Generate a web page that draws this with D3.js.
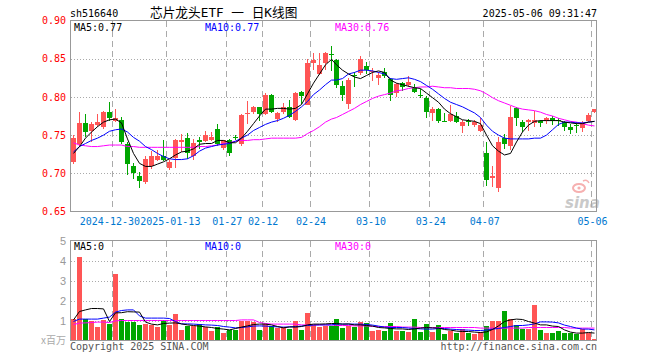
<!DOCTYPE html>
<html>
<head>
<meta charset="utf-8">
<script src="https://cdn.jsdelivr.net/npm/d3@7"></script>
<style>
body { margin: 0; background: #fff; }
svg { display: block; }
</style>
</head>
<body>
<div id="chart"></div>
<script>
// daily k-line data
var dates = [
    "2024-12-19","2024-12-20","2024-12-23","2024-12-24","2024-12-25","2024-12-26","2024-12-27","2024-12-30","2024-12-31","2025-01-02",
    "2025-01-03","2025-01-06","2025-01-07","2025-01-08","2025-01-09","2025-01-10","2025-01-13","2025-01-14","2025-01-15","2025-01-16",
    "2025-01-17","2025-01-20","2025-01-21","2025-01-22","2025-01-23","2025-01-24","2025-01-27","2025-02-05","2025-02-06","2025-02-07",
    "2025-02-10","2025-02-11","2025-02-12","2025-02-13","2025-02-14","2025-02-17","2025-02-18","2025-02-19","2025-02-20","2025-02-21",
    "2025-02-24","2025-02-25","2025-02-26","2025-02-27","2025-02-28","2025-03-03","2025-03-04","2025-03-05","2025-03-06","2025-03-07",
    "2025-03-10","2025-03-11","2025-03-12","2025-03-13","2025-03-14","2025-03-17","2025-03-18","2025-03-19","2025-03-20","2025-03-21",
    "2025-03-24","2025-03-25","2025-03-26","2025-03-27","2025-03-28","2025-03-31","2025-04-01","2025-04-02","2025-04-03","2025-04-07",
    "2025-04-08","2025-04-09","2025-04-10","2025-04-11","2025-04-14","2025-04-15","2025-04-16","2025-04-17","2025-04-18","2025-04-21",
    "2025-04-22","2025-04-23","2025-04-24","2025-04-25","2025-04-28","2025-04-29","2025-04-30","2025-05-06"
];

var openP = [
    0.715,0.738,0.766,0.755,0.763,0.760,0.780,0.768,0.770,0.739,
    0.710,0.696,0.688,0.709,0.718,0.722,0.707,0.720,0.741,0.746,
    0.723,0.744,0.742,0.744,0.758,0.733,0.744,0.748,0.738,0.778,
    0.780,0.787,0.777,0.803,0.771,0.780,0.787,0.770,0.806,0.790,
    0.844,0.830,0.845,0.856,0.848,0.814,0.791,0.829,0.831,0.840,
    0.832,0.825,0.832,0.824,0.805,0.818,0.816,0.811,0.803,0.798,
    0.779,0.784,0.769,0.768,0.775,0.762,0.768,0.763,0.755,0.727,
    0.694,0.681,0.746,0.736,0.785,0.767,0.767,0.766,0.769,0.768,
    0.772,0.770,0.767,0.761,0.763,0.759,0.768,0.780
];
var highP = [
    0.750,0.780,0.778,0.767,0.778,0.781,0.793,0.784,0.774,0.741,
    0.713,0.702,0.723,0.729,0.731,0.744,0.717,0.745,0.752,0.753,
    0.745,0.747,0.755,0.754,0.765,0.744,0.745,0.750,0.777,0.794,
    0.788,0.787,0.805,0.804,0.780,0.792,0.796,0.806,0.808,0.849,
    0.858,0.858,0.859,0.866,0.850,0.821,0.825,0.832,0.854,0.846,
    0.838,0.832,0.838,0.825,0.818,0.819,0.827,0.817,0.810,0.801,
    0.787,0.785,0.779,0.789,0.780,0.770,0.771,0.770,0.773,0.741,
    0.710,0.748,0.752,0.788,0.787,0.770,0.771,0.782,0.770,0.774,
    0.775,0.773,0.769,0.764,0.767,0.768,0.779,0.784
];
var lowP = [
    0.712,0.735,0.747,0.741,0.761,0.758,0.769,0.767,0.739,0.698,
    0.693,0.681,0.686,0.706,0.716,0.716,0.704,0.707,0.728,0.719,
    0.717,0.732,0.741,0.742,0.736,0.731,0.722,0.743,0.736,0.765,
    0.777,0.769,0.776,0.779,0.767,0.778,0.772,0.769,0.791,0.789,
    0.835,0.829,0.835,0.834,0.811,0.794,0.784,0.813,0.829,0.830,
    0.821,0.816,0.825,0.795,0.800,0.808,0.813,0.805,0.799,0.773,
    0.769,0.766,0.767,0.767,0.766,0.753,0.762,0.760,0.754,0.684,
    0.682,0.675,0.732,0.731,0.762,0.754,0.755,0.761,0.760,0.765,
    0.763,0.762,0.756,0.751,0.753,0.754,0.767,0.779
];
var closeP = [
    0.746,0.766,0.754,0.765,0.767,0.780,0.773,0.773,0.741,0.712,
    0.700,0.690,0.719,0.723,0.723,0.718,0.715,0.744,0.743,0.726,
    0.740,0.741,0.750,0.748,0.739,0.743,0.726,0.746,0.776,0.779,
    0.787,0.777,0.803,0.780,0.779,0.787,0.774,0.805,0.801,0.845,
    0.848,0.842,0.858,0.855,0.815,0.802,0.822,0.827,0.849,0.835,
    0.834,0.829,0.828,0.802,0.817,0.813,0.819,0.807,0.802,0.780,
    0.784,0.769,0.768,0.777,0.767,0.767,0.767,0.767,0.763,0.691,
    0.696,0.741,0.739,0.774,0.772,0.761,0.770,0.770,0.766,0.773,
    0.769,0.768,0.761,0.757,0.762,0.766,0.776,0.784
];

var ma5 = [
    0.726,0.735,0.746,0.754,0.761,0.767,0.770,0.771,0.766,0.745,
    0.726,0.713,0.709,0.709,0.712,0.715,0.719,0.724,0.728,0.729,
    0.732,0.738,0.739,0.739,0.743,0.743,0.740,0.740,0.746,0.755,
    0.765,0.775,0.784,0.784,0.785,0.785,0.784,0.785,0.790,0.804,
    0.818,0.830,0.842,0.849,0.842,0.835,0.830,0.826,0.824,0.828,
    0.832,0.834,0.832,0.822,0.818,0.816,0.814,0.812,0.811,0.805,
    0.799,0.793,0.784,0.778,0.774,0.770,0.769,0.768,0.765,0.750,
    0.736,0.729,0.724,0.726,0.741,0.754,0.763,0.768,0.769,0.769,
    0.769,0.769,0.767,0.766,0.765,0.765,0.767,0.768
];
var ma10 = [
    0.728,0.735,0.739,0.743,0.746,0.750,0.755,0.757,0.758,0.754,
    0.747,0.742,0.735,0.731,0.726,0.722,0.719,0.718,0.718,0.719,
    0.723,0.729,0.733,0.735,0.737,0.738,0.739,0.742,0.746,0.750,
    0.756,0.760,0.764,0.767,0.769,0.772,0.776,0.781,0.787,0.794,
    0.803,0.809,0.816,0.822,0.822,0.824,0.830,0.832,0.835,0.835,
    0.834,0.832,0.830,0.824,0.823,0.824,0.825,0.823,0.820,0.815,
    0.810,0.804,0.798,0.793,0.790,0.787,0.783,0.779,0.773,0.763,
    0.755,0.750,0.746,0.745,0.745,0.745,0.745,0.746,0.746,0.750,
    0.757,0.764,0.767,0.767,0.766,0.766,0.767,0.768
];
var ma30 = [
    0.740,0.737,0.736,0.735,0.735,0.736,0.737,0.737,0.737,0.735,
    0.735,0.734,0.734,0.734,0.734,0.734,0.734,0.734,0.734,0.734,
    0.734,0.735,0.735,0.736,0.737,0.739,0.740,0.742,0.743,0.743,
    0.744,0.744,0.745,0.746,0.746,0.746,0.746,0.746,0.747,0.752,
    0.756,0.761,0.767,0.771,0.773,0.777,0.781,0.785,0.790,0.794,
    0.798,0.801,0.803,0.805,0.808,0.809,0.811,0.812,0.813,0.813,
    0.814,0.813,0.812,0.812,0.811,0.811,0.811,0.810,0.808,0.804,
    0.799,0.795,0.792,0.789,0.786,0.784,0.783,0.782,0.780,0.777,
    0.775,0.772,0.770,0.768,0.767,0.765,0.763,0.762
];

// volume in millions
var volume = [
    1.08,4.20,1.07,1.00,0.70,1.03,0.83,3.33,1.08,0.95,
    0.95,0.78,0.82,0.78,0.70,1.03,0.78,1.33,0.53,0.73,
    0.73,0.82,0.70,0.48,0.67,0.37,0.53,0.53,1.00,1.00,
    0.95,0.53,0.83,0.73,0.62,0.70,0.58,1.00,0.53,1.40,
    0.78,0.70,0.75,0.72,1.08,0.65,0.75,0.70,0.95,0.90,
    0.50,0.53,0.50,0.87,0.50,0.50,0.45,1.08,0.45,0.83,
    0.45,0.78,0.33,0.50,0.40,0.58,0.40,0.33,0.42,0.73,
    1.00,1.00,1.50,1.08,0.78,0.58,0.57,1.78,0.53,0.40,
    0.40,0.48,0.40,0.40,0.33,0.58,0.40,0.08
];
var volMa5 = [
    1.03,1.45,1.53,1.60,1.60,1.58,0.95,1.38,1.39,1.44,
    1.43,1.42,0.92,0.82,0.78,0.85,0.87,0.88,0.83,0.78,
    0.75,0.72,0.68,0.65,0.60,0.57,0.53,0.60,0.67,0.73,
    0.80,0.82,0.82,0.78,0.70,0.63,0.68,0.67,0.70,0.78,
    0.82,0.82,0.83,0.85,0.85,0.82,0.83,0.78,0.78,0.75,
    0.72,0.65,0.63,0.60,0.58,0.58,0.55,0.58,0.62,0.65,
    0.63,0.62,0.55,0.52,0.47,0.45,0.45,0.42,0.40,0.43,
    0.55,0.73,0.95,1.03,1.07,1.05,0.95,0.87,0.78,0.78,
    0.72,0.70,0.53,0.42,0.37,0.37,0.40,0.37
];
var volMa10 = [
    0.95,1.07,1.07,1.07,1.07,1.12,1.17,1.42,1.50,1.53,
    1.53,1.23,1.12,1.12,1.12,1.12,1.10,0.95,0.83,0.83,
    0.82,0.80,0.78,0.77,0.75,0.70,0.67,0.63,0.65,0.68,
    0.72,0.73,0.72,0.70,0.68,0.67,0.68,0.70,0.72,0.75,
    0.77,0.78,0.78,0.78,0.82,0.82,0.82,0.82,0.82,0.80,
    0.77,0.72,0.67,0.65,0.65,0.65,0.62,0.60,0.58,0.57,
    0.57,0.60,0.60,0.57,0.55,0.53,0.52,0.50,0.50,0.52,
    0.57,0.60,0.65,0.70,0.75,0.75,0.78,0.83,0.93,0.93,
    0.92,0.88,0.77,0.70,0.62,0.57,0.57,0.53
];
var volMa30 = [
    0.80,0.87,0.88,0.90,0.92,0.92,0.90,0.98,1.00,1.00,
    1.00,1.00,1.00,1.00,1.00,1.00,1.00,1.00,1.00,1.00,
    1.00,1.00,1.00,1.00,1.00,1.00,1.00,1.00,1.03,1.03,
    1.03,0.90,0.85,0.82,0.82,0.82,0.82,0.82,0.78,0.78,
    0.78,0.78,0.78,0.78,0.75,0.75,0.75,0.73,0.73,0.73,
    0.70,0.70,0.70,0.70,0.70,0.67,0.67,0.67,0.65,0.65,
    0.65,0.65,0.65,0.65,0.65,0.65,0.65,0.65,0.62,0.62,
    0.62,0.62,0.62,0.62,0.62,0.62,0.65,0.65,0.65,0.65,
    0.65,0.65,0.65,0.62,0.62,0.62,0.62,0.62
];

var tickDates = ["2024-12-30","2025-01-13","2025-01-27","2025-02-12","2025-02-24","2025-03-10","2025-03-24","2025-04-07","2025-05-06"];
var tickLabels = ["2024-12-30","2025-01-13","01-27","02-12","02-24","03-10","03-24","04-07","05-06"];
var priceTicks = [0.90, 0.85, 0.80, 0.75, 0.70, 0.65];
var volTicks = [1, 2, 3, 4, 5];

var width = 660, height = 360;
var RED = "#ff5555", GREEN = "#00a600";
var mono = "'DejaVu Sans Mono', monospace";

var svg = d3.select("#chart")
    .append("svg")
    .attr("width", width)
    .attr("height", height)
    .style("font-family", mono);

var x = d3.scaleLinear().domain([0, dates.length - 1]).range([71, 592]);
var y = d3.scaleLinear().domain([0.65, 0.90]).range([211.5, 20.5]);
var yv = d3.scaleLinear().domain([0, 5]).range([340.5, 240.5]);

var tickIdx = tickDates.map(d => dates.indexOf(d));
function gx(i) { return Math.round(x(i)) - 0.5; }

// header
svg.append("text").attr("x", 70).attr("y", 17).attr("font-size", 10).text("sh516640");
svg.append("text").attr("x", 150).attr("y", 17)
    .attr("font-size", 12.7)
    .style("font-family", "'DejaVu Sans Mono', 'Noto Sans CJK SC'")
    .text("芯片龙头ETF 一 日K线图");
svg.append("text").attr("x", 597).attr("y", 17).attr("font-size", 10)
    .attr("text-anchor", "end").text("2025-05-06 09:31:47");

// sina watermark
var wm = svg.append("g");
wm.append("ellipse").attr("cx", 579).attr("cy", 188).attr("rx", 6).attr("ry", 4)
    .attr("fill", "none").attr("stroke", "#f6b0b0").attr("stroke-width", 2);
wm.append("circle").attr("cx", 579).attr("cy", 188).attr("r", 1.6).attr("fill", "#f6b0b0");
wm.append("path").attr("d", "M583,181 q4,-2 6,2").attr("fill", "none").attr("stroke", "#f6b0b0").attr("stroke-width", 1.5);
wm.append("text").attr("x", 565).attr("y", 208)
    .attr("font-size", 15).attr("font-weight", "bold").attr("font-style", "italic")
    .style("font-family", "'DejaVu Sans', sans-serif")
    .attr("fill", "#c9c9c9").text("sina");

// ---- price panel ----
var grid = svg.append("g").attr("shape-rendering", "crispEdges");
grid.selectAll(".hgrid")
    .data(priceTicks.slice(1, -1))
    .enter()
    .append("line")
    .attr("x1", 70.5).attr("x2", 596.5)
    .attr("y1", d => Math.round(y(d)) + 0.5)
    .attr("y2", d => Math.round(y(d)) + 0.5)
    .attr("stroke", "#aaa")
    .attr("stroke-dasharray", "1,2");
grid.selectAll(".vgrid")
    .data(tickIdx)
    .enter()
    .append("line")
    .attr("x1", d => gx(d)).attr("x2", d => gx(d))
    .attr("y1", 20.5).attr("y2", 211.5)
    .attr("stroke", "#aaa")
    .attr("stroke-dasharray", "6,4");

// volume grid
grid.selectAll(".vhgrid")
    .data(volTicks.slice(0, -1))
    .enter()
    .append("line")
    .attr("x1", 70.5).attr("x2", 596.5)
    .attr("y1", d => Math.round(yv(d)) + 0.5)
    .attr("y2", d => Math.round(yv(d)) + 0.5)
    .attr("stroke", "#aaa")
    .attr("stroke-dasharray", "1,2");
grid.selectAll(".vvgrid")
    .data(tickIdx)
    .enter()
    .append("line")
    .attr("x1", d => gx(d)).attr("x2", d => gx(d))
    .attr("y1", 240.5).attr("y2", 340.5)
    .attr("stroke", "#aaa")
    .attr("stroke-dasharray", "6,4");

var idx = d3.range(dates.length);
function up(i) { return closeP[i] >= openP[i]; }

var candles = svg.append("g").attr("shape-rendering", "crispEdges");
candles.selectAll(".wick")
    .data(idx)
    .enter()
    .append("line")
    .attr("x1", i => Math.round(x(i)) + 2.5)
    .attr("x2", i => Math.round(x(i)) + 2.5)
    .attr("y1", i => y(highP[i]))
    .attr("y2", i => y(lowP[i]))
    .attr("stroke", i => up(i) ? RED : GREEN);
candles.selectAll(".body")
    .data(idx)
    .enter()
    .append("rect")
    .attr("x", i => Math.round(x(i)))
    .attr("width", 5)
    .attr("y", i => y(Math.max(openP[i], closeP[i])))
    .attr("height", i => Math.max(1, Math.abs(y(openP[i]) - y(closeP[i]))))
    .attr("fill", i => up(i) ? RED : GREEN);

var priceLine = d3.line().x((d, i) => Math.round(x(i)) + 2.5).y(d => y(d));
[[ma30, "#ff00ff"], [ma10, "#0000ff"], [ma5, "#000"]].forEach(function(s) {
    svg.append("path")
        .attr("d", priceLine(s[0]))
        .attr("fill", "none")
        .attr("stroke", s[1])
        .attr("stroke-width", 1);
});

// ---- volume panel ----
var bars = svg.append("g").attr("shape-rendering", "crispEdges");
bars.selectAll("rect")
    .data(idx)
    .enter()
    .append("rect")
    .attr("x", i => Math.round(x(i)))
    .attr("width", 5)
    .attr("y", i => yv(volume[i]))
    .attr("height", i => yv(0) - yv(volume[i]))
    .attr("fill", i => up(i) ? RED : GREEN);

var volLine = d3.line().x((d, i) => Math.round(x(i)) + 2.5).y(d => yv(d));
[[volMa30, "#ff00ff"], [volMa10, "#0000ff"], [volMa5, "#000"]].forEach(function(s) {
    svg.append("path")
        .attr("d", volLine(s[0]))
        .attr("fill", "none")
        .attr("stroke", s[1])
        .attr("stroke-width", 1);
});

// frames
svg.append("rect").attr("x", 70.5).attr("y", 20.5).attr("width", 526).attr("height", 191)
    .attr("fill", "none").attr("stroke", "#999").attr("shape-rendering", "crispEdges");
svg.append("rect").attr("x", 70.5).attr("y", 240.5).attr("width", 526).attr("height", 100)
    .attr("fill", "none").attr("stroke", "#999").attr("shape-rendering", "crispEdges");

// axes
var yAxis = svg.append("g")
    .attr("transform", "translate(70,0)")
    .call(d3.axisLeft(y).tickValues(priceTicks).tickFormat(d3.format(".2f")).tickSize(0).tickPadding(4));
yAxis.select(".domain").remove();
yAxis.selectAll("text").attr("fill", "#ff0000").attr("font-size", 10).style("font-family", mono);

var vAxis = svg.append("g")
    .attr("transform", "translate(70,0)")
    .call(d3.axisLeft(yv).tickValues(volTicks).tickFormat(d3.format("d")).tickSize(0).tickPadding(4));
vAxis.select(".domain").remove();
vAxis.selectAll("text").attr("fill", "#999").attr("font-size", 11)
    .style("font-family", "'Liberation Sans', sans-serif");
svg.append("text").attr("x", 66).attr("y", 344).attr("text-anchor", "end")
    .attr("font-size", 10).attr("fill", "#aaa")
    .style("font-family", "'Noto Sans CJK SC', sans-serif")
    .text("x百万");

var xAxis = svg.append("g")
    .attr("transform", "translate(0,211.5)")
    .call(d3.axisBottom(x).tickValues(tickIdx).tickFormat((d, i) => tickLabels[i]).tickSize(0).tickPadding(6));
xAxis.select(".domain").remove();
xAxis.selectAll("text").attr("fill", "#0078d0").attr("font-size", 10).style("font-family", mono);
// the first two long labels collide, nudge them apart a little
xAxis.selectAll(".tick text").attr("dx", (d, i) => i === 0 ? -3.5 : (i === 1 ? 3 : 0));

// legends
var maLabels = [["MA5:0.77", "#000", 74], ["MA10:0.77", "#0000ff", 205], ["MA30:0.76", "#ff00ff", 335]];
svg.selectAll(".malabel")
    .data(maLabels)
    .enter()
    .append("text")
    .attr("x", d => d[2]).attr("y", 31)
    .attr("font-size", 10)
    .attr("fill", d => d[1])
    .text(d => d[0]);
var volLabels = [["MA5:0", "#000", 74], ["MA10:0", "#0000ff", 205], ["MA30:0", "#ff00ff", 335]];
svg.selectAll(".vlabel")
    .data(volLabels)
    .enter()
    .append("text")
    .attr("x", d => d[2]).attr("y", 250)
    .attr("font-size", 10)
    .attr("fill", d => d[1])
    .text(d => d[0]);

// footer
svg.append("text").attr("x", 70).attr("y", 350).attr("font-size", 10).attr("fill", "#555")
    .text("Copyright 2025 SINA.COM");
svg.append("text").attr("x", 597).attr("y", 350).attr("font-size", 10).attr("fill", "#555")
    .attr("text-anchor", "end").text("http://finance.sina.com.cn");
</script>
</body>
</html>
